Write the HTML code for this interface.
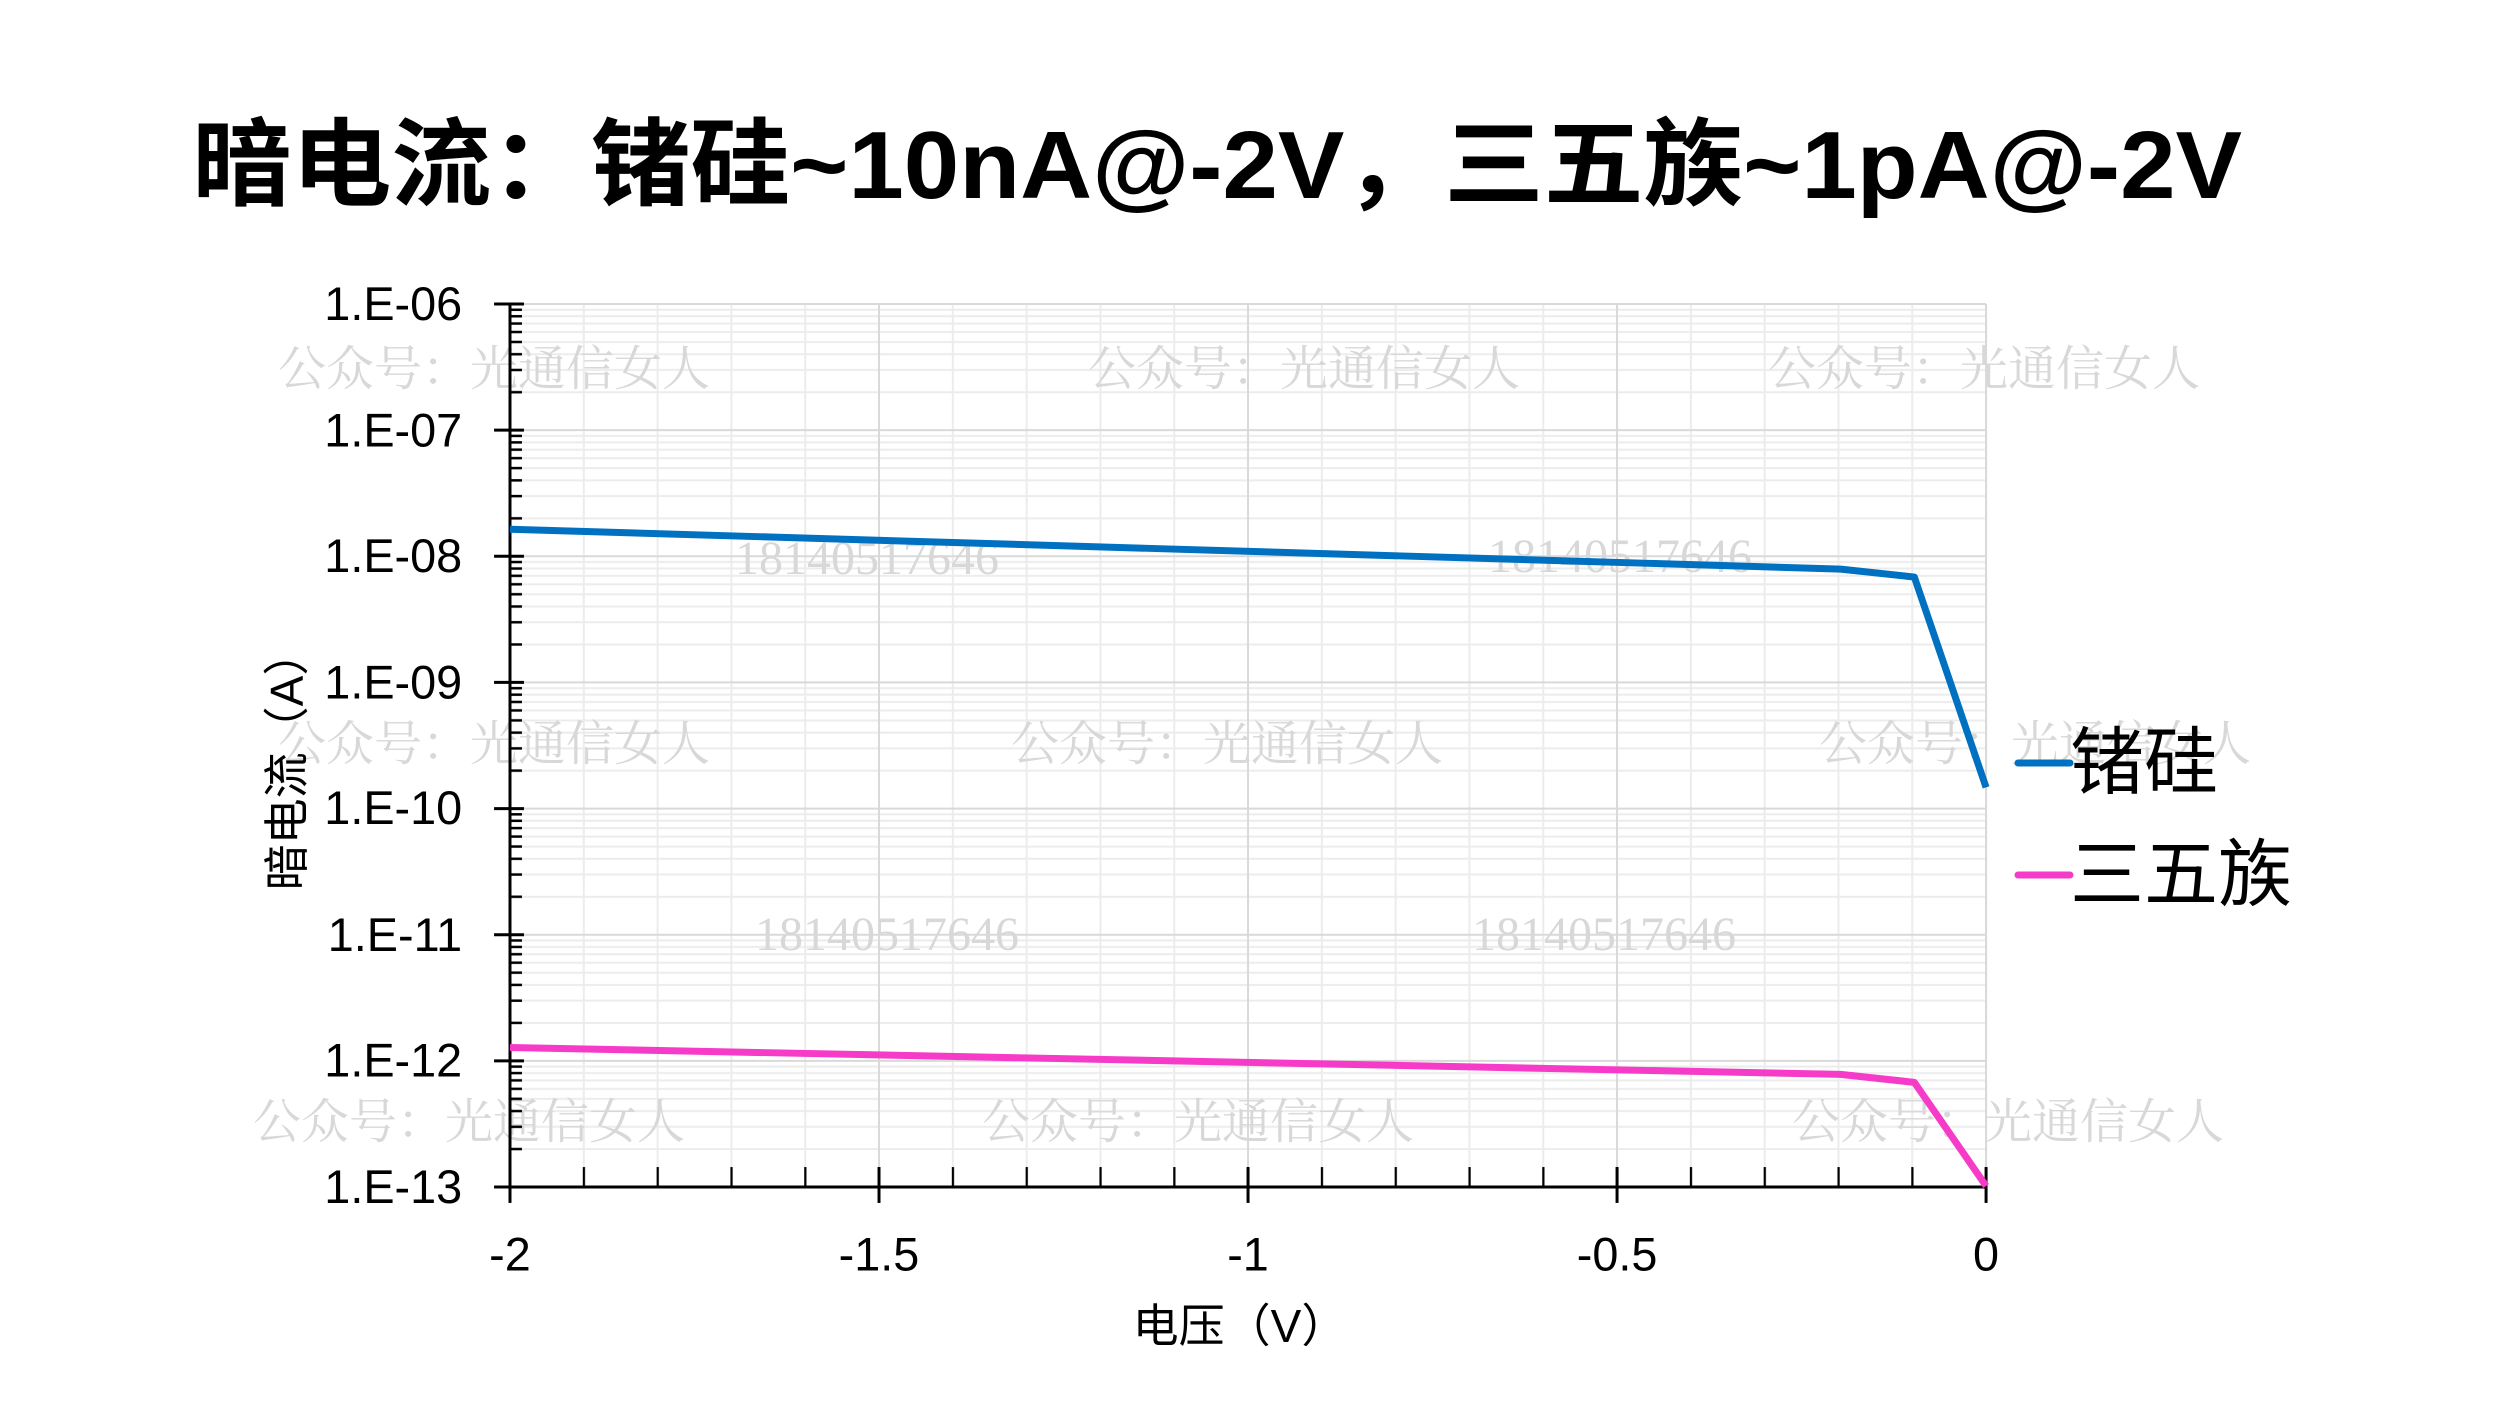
<!DOCTYPE html>
<html><head><meta charset="utf-8"><style>
html,body{margin:0;padding:0;background:#fff}
svg{display:block}
</style></head><body>
<svg width="2500" height="1406" viewBox="0 0 2500 1406" xmlns="http://www.w3.org/2000/svg">
<defs>
<pattern id="hmin" patternUnits="userSpaceOnUse" x="512" y="304" width="2000" height="126.571">
<g stroke="#ececec" stroke-width="2">
<line x1="0" x2="2000" y1="88.5" y2="88.5"/><line x1="0" x2="2000" y1="66.2" y2="66.2"/>
<line x1="0" x2="2000" y1="50.4" y2="50.4"/><line x1="0" x2="2000" y1="38.1" y2="38.1"/>
<line x1="0" x2="2000" y1="28.1" y2="28.1"/><line x1="0" x2="2000" y1="19.6" y2="19.6"/>
<line x1="0" x2="2000" y1="12.3" y2="12.3"/><line x1="0" x2="2000" y1="5.8" y2="5.8"/>
</g></pattern>
<pattern id="ytk" patternUnits="userSpaceOnUse" x="512" y="304" width="20" height="126.571">
<g stroke="#000" stroke-width="2.5">
<line x1="0" x2="12" y1="88.5" y2="88.5"/><line x1="0" x2="12" y1="66.2" y2="66.2"/>
<line x1="0" x2="12" y1="50.4" y2="50.4"/><line x1="0" x2="12" y1="38.1" y2="38.1"/>
<line x1="0" x2="12" y1="28.1" y2="28.1"/><line x1="0" x2="12" y1="19.6" y2="19.6"/>
<line x1="0" x2="12" y1="12.3" y2="12.3"/><line x1="0" x2="12" y1="5.8" y2="5.8"/>
</g></pattern>
<pattern id="vmin" patternUnits="userSpaceOnUse" x="511" y="304" width="74.1" height="900">
<line x1="1" x2="1" y1="0" y2="900" stroke="#ececec" stroke-width="2"/></pattern>
<pattern id="xtk" patternUnits="userSpaceOnUse" x="511" y="1170" width="74.1" height="20">
<line x1="1" x2="1" y1="0" y2="20" stroke="#000" stroke-width="2.5"/></pattern>
</defs>
<text x="192" y="198" textLength="2050" lengthAdjust="spacingAndGlyphs" font-family="'Liberation Sans','Noto Sans CJK SC',sans-serif" font-weight="bold" font-size="96" fill="#000">暗电流：锗硅~10nA@-2V，三五族~1pA@-2V</text>
<g transform="translate(510,304) scale(0.996,0.9966) translate(-512,-304)">
<rect x="512" y="304" width="1482" height="886" fill="url(#vmin)"/>
<rect x="512" y="304" width="1482" height="886" fill="url(#hmin)"/>
<g stroke="#d9d9d9" stroke-width="2">
<line x1="512" x2="1994" y1="304" y2="304"/><line x1="512" x2="1994" y1="430.6" y2="430.6"/>
<line x1="512" x2="1994" y1="557.1" y2="557.1"/><line x1="512" x2="1994" y1="683.7" y2="683.7"/>
<line x1="512" x2="1994" y1="810.3" y2="810.3"/><line x1="512" x2="1994" y1="936.9" y2="936.9"/>
<line x1="512" x2="1994" y1="1063.4" y2="1063.4"/>
<line x1="882.5" x2="882.5" y1="304" y2="1190"/><line x1="1253" x2="1253" y1="304" y2="1190"/>
<line x1="1623.5" x2="1623.5" y1="304" y2="1190"/><line x1="1994" x2="1994" y1="304" y2="1190"/>
</g>
</g>
<g font-family="'Liberation Serif','Noto Serif CJK SC',serif" font-size="48" fill="#d8d8d8">
<text x="278" y="385">公众号：光通信女人</text><text x="1088" y="385">公众号：光通信女人</text><text x="1768" y="385">公众号：光通信女人</text>
<text x="278" y="760">公众号：光通信女人</text><text x="1011" y="760">公众号：光通信女人</text><text x="1819" y="760">公众号：光通信女人</text>
<text x="253" y="1138">公众号：光通信女人</text><text x="982" y="1138">公众号：光通信女人</text><text x="1792" y="1138">公众号：光通信女人</text>
<text x="735" y="574">18140517646</text><text x="1488" y="572">18140517646</text>
<text x="755" y="950">18140517646</text><text x="1472" y="950">18140517646</text>
</g>
<g transform="translate(510,304) scale(0.996,0.9966) translate(-512,-304)">
<rect x="512" y="304" width="14" height="886" fill="url(#ytk)"/>
<rect x="512" y="1170" width="1482" height="20" fill="url(#xtk)"/>
<g stroke="#000" stroke-width="3">
<line x1="512" x2="512" y1="304" y2="1190"/>
<line x1="512" x2="1994" y1="1190" y2="1190"/>
<line x1="496" x2="526" y1="304" y2="304"/><line x1="496" x2="526" y1="430.6" y2="430.6"/>
<line x1="496" x2="526" y1="557.1" y2="557.1"/><line x1="496" x2="526" y1="683.7" y2="683.7"/>
<line x1="496" x2="526" y1="810.3" y2="810.3"/><line x1="496" x2="526" y1="936.9" y2="936.9"/>
<line x1="496" x2="526" y1="1063.4" y2="1063.4"/><line x1="496" x2="512" y1="1190" y2="1190"/>
<line x1="512" x2="512" y1="1170" y2="1206"/><line x1="882.5" x2="882.5" y1="1170" y2="1206"/>
<line x1="1253" x2="1253" y1="1170" y2="1206"/><line x1="1623.5" x2="1623.5" y1="1170" y2="1206"/>
<line x1="1994" x2="1994" y1="1170" y2="1206"/>
</g>
<g font-family="'Liberation Sans','Noto Sans CJK SC',sans-serif" font-size="47" fill="#000" text-anchor="end">
<text x="464" y="320">1.E-06</text><text x="464" y="447">1.E-07</text><text x="464" y="573">1.E-08</text>
<text x="464" y="700">1.E-09</text><text x="464" y="826">1.E-10</text><text x="464" y="953">1.E-11</text>
<text x="464" y="1079">1.E-12</text><text x="464" y="1206">1.E-13</text>
</g>
<g font-family="'Liberation Sans','Noto Sans CJK SC',sans-serif" font-size="47" fill="#000" text-anchor="middle">
<text x="512" y="1274">-2</text><text x="882.5" y="1274">-1.5</text><text x="1253" y="1274">-1</text>
<text x="1623.5" y="1274">-0.5</text><text x="1994" y="1274">0</text>
</g>
<polyline points="512,530 1848,570 1922,578 1994,789" fill="none" stroke="#0070c0" stroke-width="7" stroke-linejoin="round"/>
<polyline points="512,1050 1848,1077 1922,1085 1994,1189" fill="none" stroke="#f53bc8" stroke-width="7" stroke-linejoin="round"/>
</g>
<g font-family="'Liberation Sans','Noto Sans CJK SC',sans-serif" font-size="46" fill="#000" text-anchor="middle">
<text x="1240" y="1342">电压（V）</text>
<text transform="translate(303,760) rotate(-90)">暗电流（A）</text>
</g>
<line x1="2018" x2="2070" y1="763" y2="763" stroke="#0070c0" stroke-width="7" stroke-linecap="round"/>
<line x1="2018" x2="2070" y1="875" y2="875" stroke="#f53bc8" stroke-width="7" stroke-linecap="round"/>
<g font-family="'Liberation Sans','Noto Sans CJK SC',sans-serif" font-size="74" fill="#000">
<text x="2070" y="788">锗硅</text><text x="2070" y="900">三五族</text>
</g>
</svg>
</body></html>
